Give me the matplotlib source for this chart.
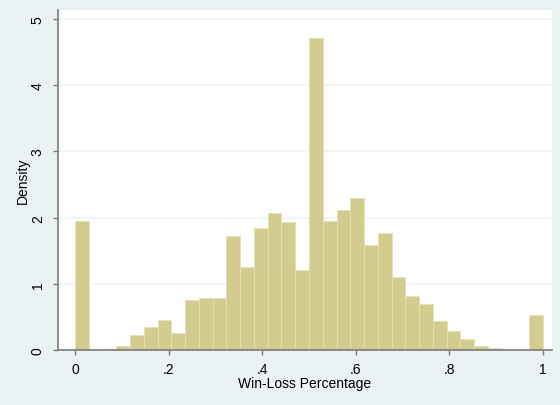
import numpy as np
import matplotlib
matplotlib.use("Agg")
from matplotlib import pyplot as plt

# histogram of win-loss percentage, 34 equal bins on [0, 1]
n_bins = 34
density = [1.95, 0.0, 0.015, 0.055, 0.23, 0.35, 0.46, 0.26, 0.76, 0.78,
           0.78, 1.72, 1.26, 1.85, 2.07, 1.93, 1.21, 4.71, 1.95, 2.11,
           2.29, 1.59, 1.77, 1.10, 0.81, 0.69, 0.44, 0.28, 0.16, 0.065,
           0.035, 0.0, 0.0, 0.53]
x_ticks = [0, 0.2, 0.4, 0.6, 0.8, 1.0]
x_ticklabels = ["0", ".2", ".4", ".6", ".8", "1"]
y_ticks = [0, 1, 2, 3, 4, 5]

plt.rcParams['font.family'] = ['Liberation Sans', 'DejaVu Sans']

edges = np.linspace(0, 1, n_bins + 1)
width = 1.0 / n_bins

fig = plt.figure(figsize=(5.6, 4.06), dpi=100, facecolor='#eaf2f3')
ax = fig.add_axes([58 / 560, 1 - 351 / 406, (552 - 58) / 560, (351 - 11) / 406])
ax.set_facecolor('white')

ax.bar(edges[:-1], density, width=width, align='edge',
       color='#d3cc8f', edgecolor='#e4e0b8', linewidth=0.6, zorder=2)

ax.set_xlim(-0.0363, 1.0192)
ax.set_ylim(0, 5.136)

# faint horizontal grid
for y in y_ticks[1:]:
    ax.axhline(y, color='#edf3f4', linewidth=1.2, zorder=1)

for side in ['top', 'right']:
    ax.spines[side].set_visible(False)
for side in ['left', 'bottom']:
    ax.spines[side].set_color('#7a7a7a')
    ax.spines[side].set_linewidth(1.2)
    ax.spines[side].set_zorder(3)

ax.set_xticks(x_ticks)
ax.set_xticklabels(x_ticklabels)
ax.set_yticks(y_ticks)
ax.set_yticklabels([str(v) for v in y_ticks], rotation=90, va='center')
ax.tick_params(axis='x', length=3.5, width=1.0, color='#7a7a7a', pad=5,
               labelsize=10)
ax.tick_params(axis='y', length=3.5, width=1.0, color='#7a7a7a', pad=6,
               labelsize=10)

ax.set_xlabel('Win-Loss Percentage', fontsize=10, labelpad=0)
ax.set_ylabel('Density', fontsize=10, labelpad=1)

fig.savefig('out.png', dpi=100, facecolor=fig.get_facecolor())
